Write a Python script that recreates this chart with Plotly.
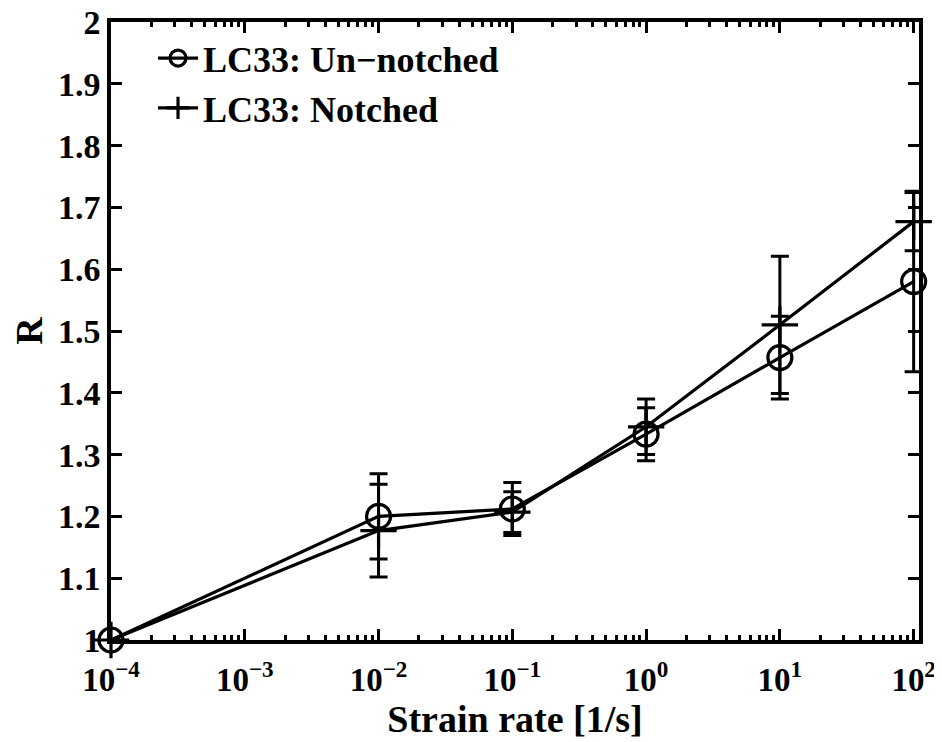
import plotly.graph_objects as go

strain_rate = [1e-4, 1e-2, 1e-1, 1e0, 1e1, 1e2]
r_unnotched = [1.000, 1.200, 1.212, 1.333, 1.457, 1.580]
err_unnotched = [0.0, 0.069, 0.043, 0.043, 0.067, 0.146]
r_notched = [1.000, 1.177, 1.207, 1.345, 1.510, 1.677]
err_notched = [0.0, 0.075, 0.033, 0.045, 0.111, 0.047]

x_tickvals = [1e-4, 1e-3, 1e-2, 1e-1, 1e0, 1e1, 1e2]
x_ticktext = ["10<sup>\u22124</sup>", "10<sup>\u22123</sup>", "10<sup>\u22122</sup>",
              "10<sup>\u22121</sup>", "10<sup>0</sup>", "10<sup>1</sup>", "10<sup>2</sup>"]
y_tickvals = [1, 1.1, 1.2, 1.3, 1.4, 1.5, 1.6, 1.7, 1.8, 1.9, 2]
y_ticktext = ["1", "1.1", "1.2", "1.3", "1.4", "1.5", "1.6", "1.7", "1.8", "1.9", "2"]

minor_vals = [m * 10.0 ** k for k in range(-4, 2) for m in range(2, 10)]

FONT = "Liberation Serif"

fig = go.Figure()
fig.add_trace(go.Scatter(
    x=strain_rate, y=r_unnotched, name="LC33: Un\u2212notched",
    mode="lines+markers",
    line=dict(color="black", width=3.2),
    marker=dict(symbol="circle-open", size=24, color="black", line=dict(width=3.2)),
    error_y=dict(type="data", array=err_unnotched, color="black", thickness=3, width=9),
    cliponaxis=False,
))
fig.add_trace(go.Scatter(
    x=strain_rate, y=r_notched, name="LC33: Notched",
    mode="lines+markers",
    line=dict(color="black", width=3.2),
    marker=dict(symbol="cross-thin-open", size=26, color="black", line=dict(width=3.2, color="black")),
    error_y=dict(type="data", array=err_notched, color="black", thickness=3, width=9),
    cliponaxis=False,
))

# page body has an 8px default margin, so the figure is sized/offset to compensate
fig.update_layout(
    width=934, height=734,
    margin=dict(l=103, r=23, t=14, b=102),
    paper_bgcolor="white", plot_bgcolor="white",
    font=dict(family=FONT, size=34, color="black", weight="bold"),
    showlegend=True,
    legend=dict(x=0.052, y=0.99, xanchor="left", yanchor="top",
                bgcolor="rgba(0,0,0,0)", borderwidth=0,
                font=dict(family=FONT, size=36, color="black", weight="bold"),
                tracegroupgap=0, itemwidth=40),
)
fig.update_xaxes(
    type="log", range=[-4, 2.04], automargin=False,
    tickmode="array", tickvals=x_tickvals, ticktext=x_ticktext,
    ticks="inside", ticklen=11, tickwidth=2.5, tickcolor="black",
    minor=dict(tickmode="array", tickvals=minor_vals, ticks="inside",
               ticklen=5, tickwidth=2.5, tickcolor="black"),
    showline=True, linewidth=3.5, linecolor="black", mirror="allticks",
    showgrid=False, zeroline=False, ticklabelstandoff=8,
    ticklabeloverflow="allow",
    tickfont=dict(family=FONT, size=33, color="black", weight="bold"),
    title=dict(text="Strain rate [1/s]", standoff=2,
               font=dict(family=FONT, size=38, color="black", weight="bold")),
)
fig.update_yaxes(
    range=[1, 2], automargin=False,
    tickmode="array", tickvals=y_tickvals, ticktext=y_ticktext,
    ticks="inside", ticklen=11, tickwidth=2.5, tickcolor="black",
    showline=True, linewidth=3.5, linecolor="black", mirror="allticks",
    showgrid=False, zeroline=False, ticklabeloverflow="allow",
    tickfont=dict(family=FONT, size=34, color="black", weight="bold"),
    title=dict(text="R", standoff=14,
               font=dict(family=FONT, size=38, color="black", weight="bold")),
)

fig.write_html("out.html")
